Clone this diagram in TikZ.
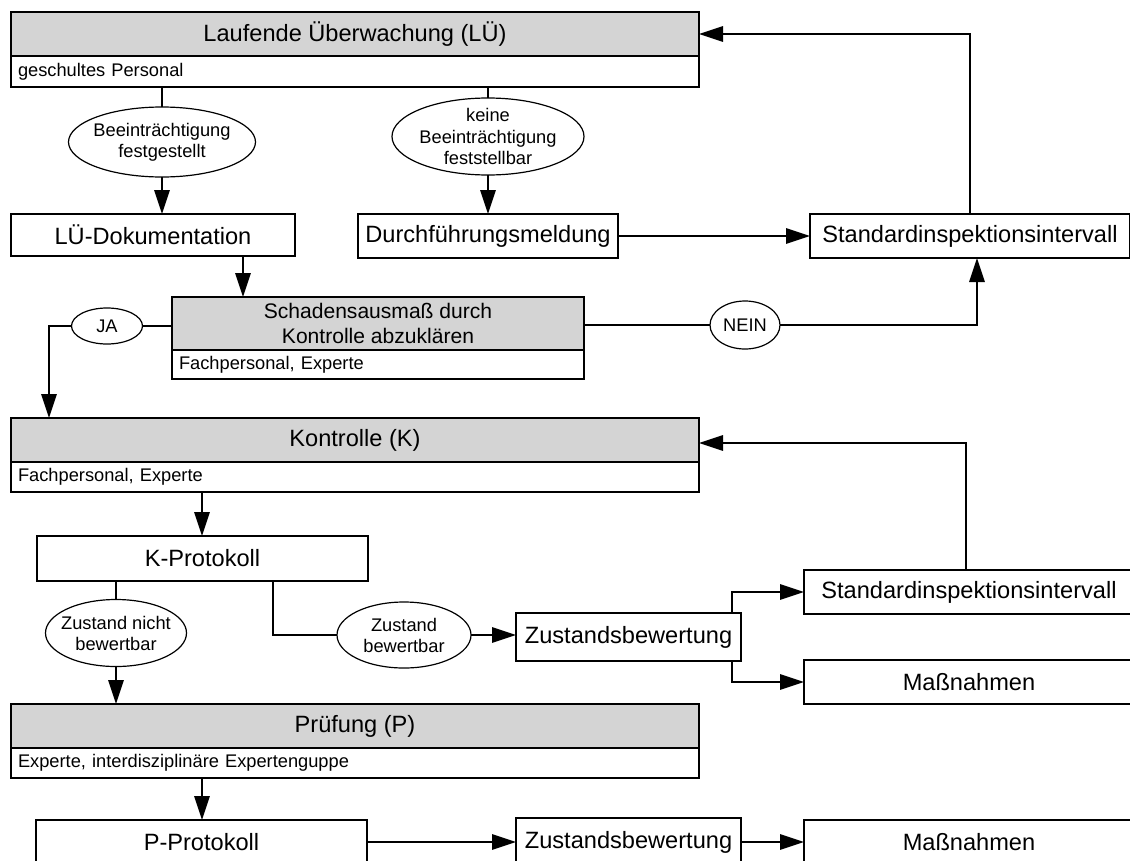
\documentclass[tikz,border=0pt]{standalone}
\usepackage{fontspec}
\setmainfont{Liberation Sans}
\usetikzlibrary{shapes.geometric,arrows.meta}
\definecolor{hdrgray}{RGB}{212,212,212}
\newcommand\fbig{\fontsize{17.7}{21}\selectfont}
\newcommand\fsch{\fontsize{15.8}{18.2}\selectfont}
\newcommand\fsmall{\fontsize{13.7}{15.8}\selectfont}
\tikzset{
  wh/.style 2 args={minimum width=#1*0.75pt, minimum height=#2*0.75pt},
  hdr/.style={draw, fill=hdrgray, font=\fbig, inner sep=0pt, outer sep=0pt, align=center},
  box/.style={draw, fill=white, font=\fbig, inner sep=0pt, outer sep=0pt},
  sub/.style={draw, fill=white, font=\fsmall, align=left, inner xsep=5.25pt, inner ysep=0pt, outer sep=0pt},
  ell/.style={draw, ellipse, fill=white, font=\fsmall, align=center, inner sep=-60pt, outer sep=0pt, line width=0.9pt},
  arr/.style={-{Triangle[length=18pt,width=11.5pt]}},
}
\begin{document}
\begin{tikzpicture}[x=0.75pt, y=-0.75pt, line width=1.5pt]
\useasboundingbox (0,0) rectangle (1130,860);
\clip (0,0) rectangle (1130,860);
\fill[white] (0,0) rectangle (1130,860);

% Laufende Ueberwachung
\node[hdr, wh={688}{44}] (LU) at (355,34) {Laufende Überwachung (LÜ)};
\node[sub, wh={688}{31}, text width=505.5pt] (LUs) at (355,71.5) {geschultes Personal};

\node[ell, wh={187}{70}] (E1) at (162,142) {Beeinträchtigung\\festgestellt};
\node[ell, wh={192}{77}] (E2) at (488,136.5) {keine\\Beeinträchtigung\\feststellbar};

\node[box, wh={284}{42}] (LUD) at (153,235) {LÜ-Dokumentation};
\node[box, wh={260}{44}] (DM) at (488,236) {Durchführungsmeldung};
\node[box, wh={320}{44}] (Std1) at (970,236) {Standardinspektionsintervall};

% Schadensausmass
\node[hdr, font=\fsch, wh={412}{53}] (S) at (378,323.5) {Schadensausmaß durch\\Kontrolle abzuklären};
\node[sub, wh={412}{29}, text width=298.5pt] (Ss) at (378,364.5) {Fachpersonal, Experte};

\node[ell, wh={71}{36}] (JA) at (107,326) {JA};
\node[ell, wh={70}{48}] (NEIN) at (745,325) {NEIN};

% Kontrolle
\node[hdr, wh={688}{44}] (K) at (355,440) {Kontrolle (K)};
\node[sub, wh={688}{30}, text width=505.5pt] (Ks) at (355,477) {Fachpersonal, Experte};

\node[box, wh={331}{45}] (KP) at (202.5,558.5) {K-Protokoll};
\node[ell, wh={141}{67}] (E3) at (116,633) {Zustand nicht\\bewertbar};
\node[ell, wh={134}{66}] (E4) at (404,635) {Zustand\\bewertbar};
\node[box, wh={225}{48}] (Z1) at (628.5,637) {Zustandsbewertung};
\node[box, wh={330}{44}] (Std2) at (969,592) {Standardinspektionsintervall};
\node[box, wh={330}{44}] (M1) at (969,682) {Maßnahmen};

% Pruefung
\node[hdr, wh={688}{44}] (P) at (355,726) {Prüfung (P)};
\node[sub, wh={688}{30}, text width=505.5pt] (Ps) at (355,763) {Experte, interdisziplinäre Expertenguppe};

\node[box, wh={331}{44}] (PP) at (201.5,842) {P-Protokoll};
\node[box, wh={225}{48}] (Z2) at (628.5,842) {Zustandsbewertung};
\node[box, wh={330}{44}] (M2) at (969,842) {Maßnahmen};

% connectors
\draw (LUs.south -| E1.north) -- (E1.north);
\draw[arr] (E1.south) -- (E1.south |- LUD.north);
\draw (LUs.south -| E2.north) -- (E2.north);
\draw[arr] (E2.south) -- (E2.south |- DM.north);
\draw[arr] (LUD.south -| 243,0) -- (S.north -| 243,0);
\draw[arr] (DM.east) -- (Std1.west);
\draw[arr] (Std1.north) |- (LU.east);
\draw (S.west |- JA.east) -- (JA.east);
\draw[arr] (JA.west) -| (K.north -| 49,0);
\draw (S.east |- NEIN.west) -- (NEIN.west);
\draw[arr] (NEIN.east) -| (Std1.south -| 977,0);
\draw[arr] (Ks.south -| 202,0) -- (KP.north -| 202,0);
\draw (KP.south -| E3.north) -- (E3.north);
\draw[arr] (E3.south) -- (E3.south |- P.north);
\draw (KP.south -| 273,0) |- (E4.west);
\draw[arr] (E4.east) -- (E4.east -| Z1.west);
\draw[arr] (Z1.north -| 732,0) |- (Std2.west);
\draw[arr] (Z1.south -| 732,0) |- (M1.west);
\draw[arr] (Std2.north -| 966,0) |- (K.east |- 0,443);
\draw[arr] (Ps.south -| 202,0) -- (PP.north -| 202,0);
\draw[arr] (PP.east) -- (Z2.west);
\draw[arr] (Z2.east) -- (M2.west);
\end{tikzpicture}
\end{document}
